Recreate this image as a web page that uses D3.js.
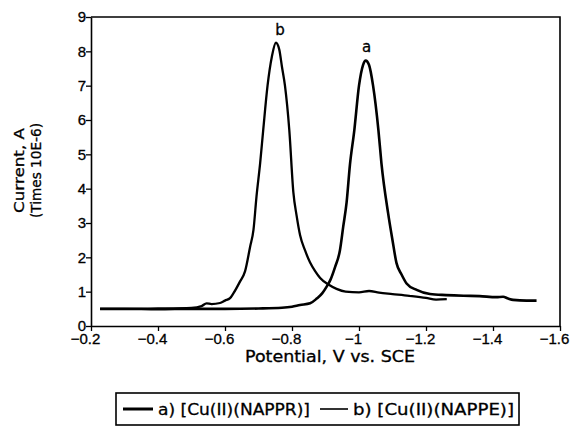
<!DOCTYPE html>
<html>
<head>
<meta charset="utf-8">
<script src="https://cdnjs.cloudflare.com/ajax/libs/d3/7.8.5/d3.min.js"></script>
<style>
  body { margin: 0; background: #fff; }
  svg { display: block; font-family: "DejaVu Sans", sans-serif; }
  svg text { fill: #000; stroke: #000; stroke-width: 0.3px; }
</style>
</head>
<body>
<div id="chart"></div>
<script>
// potential (V vs. SCE) and current (x 10E-6 A)
const potentialA = [-0.227, -0.3, -0.4, -0.5, -0.6, -0.7, -0.77, -0.8, -0.824, -0.854, -0.874, -0.89, -0.903, -0.915,
    -0.928, -0.943, -0.953, -0.963, -0.973, -0.986, -1.0, -1.012, -1.02, -1.03, -1.042, -1.058, -1.067, -1.087, -1.1,
    -1.112, -1.127, -1.142, -1.172, -1.212, -1.26, -1.312, -1.36, -1.41, -1.43, -1.445, -1.46, -1.5, -1.53];
const currentA = [0.50, 0.50, 0.49, 0.50, 0.50, 0.51, 0.53, 0.56, 0.61, 0.66, 0.80, 0.95, 1.14, 1.35,
    1.70, 2.20, 2.90, 3.60, 4.70, 5.70, 7.00, 7.60, 7.73, 7.60, 7.00, 5.70, 4.74, 3.28, 2.50,
    1.83, 1.50, 1.24, 1.05, 0.93, 0.90, 0.88, 0.87, 0.84, 0.85, 0.80, 0.76, 0.74, 0.74];

const potentialB = [-0.227, -0.3, -0.4, -0.5, -0.53, -0.545, -0.56, -0.585, -0.6, -0.615, -0.625, -0.645, -0.66,
    -0.675, -0.685, -0.694, -0.705, -0.714, -0.727, -0.74, -0.752, -0.762, -0.77, -0.779, -0.792, -0.804, -0.814,
    -0.824, -0.839, -0.854, -0.869, -0.884, -0.91, -0.933, -0.96, -1.0, -1.03, -1.06, -1.1, -1.15, -1.2, -1.23, -1.262];
const currentB = [0.50, 0.50, 0.51, 0.53, 0.58, 0.66, 0.64, 0.67, 0.74, 0.81, 0.95, 1.30, 1.60,
    2.31, 2.80, 3.77, 4.75, 5.70, 7.00, 7.85, 8.25, 8.05, 7.55, 7.00, 5.70, 3.90, 3.20,
    2.65, 2.20, 1.85, 1.60, 1.40, 1.20, 1.08, 1.00, 0.98, 1.02, 0.97, 0.93, 0.88, 0.82, 0.77, 0.78];

const xTicks = [-0.2, -0.4, -0.6, -0.8, -1, -1.2, -1.4, -1.6];
const yTicks = [0, 1, 2, 3, 4, 5, 6, 7, 8, 9];
const legendLabels = ["a) [Cu(II)(NAPPR)]", "b) [Cu(II)(NAPPE)]"];

const W = 573, H = 427;
const margin = { top: 17, right: 13, bottom: 101, left: 91 };
const width = W - margin.left - margin.right;
const height = H - margin.top - margin.bottom;

const svg = d3.select("#chart").append("svg")
    .attr("width", W)
    .attr("height", H);

const g = svg.append("g")
    .attr("transform", `translate(${margin.left},${margin.top})`);

const x = d3.scaleLinear().domain([-0.2, -1.6]).range([0, width]);
const y = d3.scaleLinear().domain([0, 9]).range([height, 0]);

// the scan centres the digits on the tick and lets the minus hang to the left
const fmt = d => d === 0 ? "0" : "\u2212" + String(Math.abs(d));

g.append("g")
    .attr("transform", `translate(0,${height})`)
    .call(d3.axisBottom(x).tickValues(xTicks).tickSize(5).tickSizeOuter(0).tickFormat(fmt))
    .call(ax => ax.select(".domain").attr("stroke-width", 1.6))
    .call(ax => ax.selectAll("line").attr("stroke-width", 1.3))
    .call(ax => ax.selectAll("text").attr("font-size", 15).attr("dx", -6).attr("y", 7).attr("dy", "0.72em"));

g.append("g")
    .call(d3.axisLeft(y).tickValues(yTicks).tickSize(5).tickSizeOuter(0))
    .call(ax => ax.select(".domain").attr("stroke-width", 1.6))
    .call(ax => ax.selectAll("line").attr("stroke-width", 1.3))
    .call(ax => ax.selectAll("text").attr("font-size", 15).attr("x", -5));

// frame top and right
g.append("path")
    .attr("d", `M0,0H${width}V${height}`)
    .attr("fill", "none")
    .attr("stroke", "#000")
    .attr("stroke-width", 1.6);

const line = d3.line()
    .x(d => x(d[0]))
    .y(d => y(d[1]))
    .curve(d3.curveMonotoneX);

const seriesA = potentialA.map((v, i) => [v, currentA[i]]);
const seriesB = potentialB.map((v, i) => [v, currentB[i]]);

g.append("path")
    .datum(seriesB)
    .attr("d", line)
    .attr("fill", "none")
    .attr("stroke", "#000")
    .attr("stroke-width", 2.3)
    .attr("stroke-linejoin", "round");

g.append("path")
    .datum(seriesA)
    .attr("d", line)
    .attr("fill", "none")
    .attr("stroke", "#000")
    .attr("stroke-width", 2.6)
    .attr("stroke-linejoin", "round");

// peak labels
const peakB = seriesB.reduce((m, d) => d[1] > m[1] ? d : m);
const peakA = seriesA.reduce((m, d) => d[1] > m[1] ? d : m);
g.append("text")
    .attr("x", x(peakB[0]) + 4).attr("y", y(peakB[1]) - 8)
    .attr("text-anchor", "middle").attr("font-size", 15).text("b");
g.append("text")
    .attr("x", x(peakA[0]) + 1).attr("y", y(peakA[1]) - 9)
    .attr("text-anchor", "middle").attr("font-size", 15).text("a");

// axis titles
svg.append("text")
    .attr("x", 245).attr("y", 362)
    .attr("font-size", 15)
    .attr("textLength", 170).attr("lengthAdjust", "spacingAndGlyphs")
    .text("Potential,  V vs. SCE");

svg.append("text")
    .attr("transform", "translate(24,213) rotate(-90)")
    .attr("font-size", 14)
    .attr("textLength", 85).attr("lengthAdjust", "spacingAndGlyphs")
    .text("Current, A");
svg.append("text")
    .attr("transform", "translate(41,218) rotate(-90)")
    .attr("font-size", 14)
    .attr("textLength", 95).attr("lengthAdjust", "spacingAndGlyphs")
    .text("(Times 10E-6)");

// legend
const legend = svg.append("g").attr("transform", "translate(116,393)");
legend.append("rect")
    .attr("width", 403).attr("height", 32)
    .attr("fill", "none").attr("stroke", "#000").attr("stroke-width", 1.6);

const legendX = [7, 204];
const legendLine = [30, 28];
const legendText = [152, 161];
const legendWidths = [3, 1.6];
legendLabels.forEach((lab, i) => {
    legend.append("line")
        .attr("x1", legendX[i]).attr("x2", legendX[i] + legendLine[i])
        .attr("y1", 16).attr("y2", 16)
        .attr("stroke", "#000").attr("stroke-width", legendWidths[i]);
    legend.append("text")
        .attr("x", legendX[i] + legendLine[i] + 5).attr("y", 22)
        .attr("font-size", 16)
        .attr("textLength", legendText[i]).attr("lengthAdjust", "spacingAndGlyphs")
        .text(lab);
});
</script>
</body>
</html>
